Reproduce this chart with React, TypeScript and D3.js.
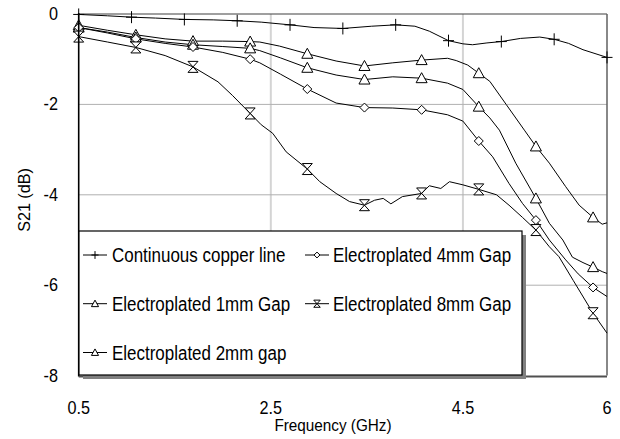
import React from "react";
import * as d3 from "d3";

const xTicks = [0.5, 2.5, 4.5, 6];
const yTicks = [0, -2, -4, -6, -8];
const gridX = [2.5, 4.5];
const gridY = [-2, -4, -6];

const seriesNames = [
  "Continuous copper line",
  "Electroplated 1mm Gap",
  "Electroplated 2mm gap",
  "Electroplated 4mm Gap",
  "Electroplated 8mm Gap",
];
const seriesMarkers = ["plus", "triangle", "triangle", "diamond", "hourglass"];

const copperF = [0.5, 0.8, 1.05, 1.3, 1.6, 1.9, 2.15, 2.4, 2.7, 2.95, 3.25, 3.55, 3.8, 4.0, 4.15, 4.35, 4.5, 4.6, 4.75, 4.9, 5.1, 5.3, 5.45, 5.6, 5.75, 6.0];
const copperV = [-0.01, -0.04, -0.07, -0.09, -0.12, -0.13, -0.15, -0.18, -0.24, -0.3, -0.32, -0.27, -0.24, -0.27, -0.38, -0.59, -0.66, -0.68, -0.64, -0.61, -0.54, -0.51, -0.56, -0.65, -0.79, -0.96];

const gap1F = [0.5, 0.8, 1.095, 1.4, 1.69, 2.0, 2.285, 2.385, 2.59, 2.88, 3.18, 3.475, 3.77, 4.07, 4.34, 4.43, 4.55, 4.665, 4.78, 4.95, 5.14, 5.26, 5.4, 5.57, 5.71, 5.855, 5.95, 6.0];
const gap1V = [-0.25, -0.36, -0.46, -0.55, -0.6, -0.6, -0.61, -0.62, -0.71, -0.88, -1.04, -1.15, -1.08, -1.02, -0.98, -1.03, -1.13, -1.31, -1.49, -2.0, -2.57, -2.93, -3.3, -3.82, -4.23, -4.5, -4.65, -4.62];

const gap2F = [0.5, 0.8, 1.095, 1.4, 1.69, 2.0, 2.285, 2.385, 2.6, 2.88, 3.18, 3.475, 3.77, 4.07, 4.34, 4.5, 4.665, 4.78, 4.88, 5.05, 5.26, 5.4, 5.54, 5.64, 5.75, 5.855, 5.95, 6.0];
const gap2V = [-0.3, -0.4, -0.52, -0.62, -0.68, -0.72, -0.76, -0.81, -0.97, -1.19, -1.35, -1.45, -1.39, -1.42, -1.53, -1.67, -2.05, -2.3, -2.57, -3.3, -4.08, -4.63, -5.0, -5.38, -5.5, -5.6, -5.7, -5.74];

const gap4F = [0.5, 0.8, 1.095, 1.4, 1.69, 2.0, 2.285, 2.385, 2.6, 2.88, 3.18, 3.475, 3.77, 4.07, 4.34, 4.5, 4.665, 4.81, 4.98, 5.12, 5.26, 5.4, 5.57, 5.7, 5.855, 6.0];
const gap4V = [-0.3, -0.42, -0.55, -0.65, -0.73, -0.85, -1.0, -1.08, -1.33, -1.66, -1.97, -2.07, -2.08, -2.12, -2.23, -2.37, -2.81, -3.16, -3.75, -4.19, -4.56, -5.0, -5.44, -5.75, -6.05, -6.25];

const gap8F = [0.5, 0.8, 1.095, 1.4, 1.69, 1.95, 2.1, 2.285, 2.4, 2.52, 2.66, 2.88, 3.01, 3.18, 3.32, 3.475, 3.58, 3.67, 3.75, 3.87, 4.07, 4.15, 4.27, 4.36, 4.5, 4.665, 4.85, 4.98, 5.12, 5.26, 5.4, 5.5, 5.65, 5.855, 6.0];
const gap8V = [-0.5, -0.62, -0.74, -0.92, -1.17, -1.5, -1.8, -2.2, -2.45, -2.64, -3.05, -3.43, -3.71, -3.97, -4.15, -4.23, -4.12, -4.08, -4.2, -4.04, -3.97, -3.8, -3.86, -3.71, -3.78, -3.88, -4.0, -4.23, -4.5, -4.78, -5.15, -5.37, -5.9, -6.62, -7.06];

const copperMarkerF = [0.5, 1.05, 1.6, 2.15, 2.7, 3.25, 3.8, 4.35, 4.9, 5.45, 6.0];
const gapMarkerF = [0.5, 1.095, 1.69, 2.285, 2.88, 3.475, 4.07, 4.665, 5.26, 5.855];

const seriesF = [copperF, gap1F, gap2F, gap4F, gap8F];
const seriesV = [copperV, gap1V, gap2V, gap4V, gap8V];
const seriesMarkF = [copperMarkerF, gapMarkerF, gapMarkerF, gapMarkerF, gapMarkerF];

const W = 620;
const H = 439;
const FONT = "'Liberation Sans', Arial, sans-serif";

function markerPath(kind: string, s: number): string {
  if (kind === "plus") return `M${-5.5 * s},0H${5.5 * s}M0,${-6 * s}V${6 * s}`;
  if (kind === "triangle") return `M0,${-5.5 * s}L${5.5 * s},${4.5 * s}L${-5.5 * s},${4.5 * s}Z`;
  if (kind === "diamond") return `M0,${-4.5 * s}L${4.5 * s},0L0,${4.5 * s}L${-4.5 * s},0Z`;
  return `M${-5 * s},${-5.5 * s}H${5 * s}L${-5 * s},${5.5 * s}H${5 * s}Z`;
}

function T(props: { x: number; y: number; sx?: number; size: number; anchor?: string; rotate?: number; children: React.ReactNode }) {
  const { x, y, sx = 0.88, size, anchor = "start", rotate = 0 } = props;
  return (
    <text
      transform={`translate(${x},${y}) rotate(${rotate}) scale(${sx},1)`}
      fontFamily={FONT}
      fontSize={size}
      textAnchor={anchor}
      fill="#000"
    >
      {props.children}
    </text>
  );
}

export default function App() {
  const x = d3.scaleLinear().domain([0.5, 6]).range([78.7, 607]);
  const y = d3.scaleLinear().domain([-8, 0]).range([375.6, 14]);
  const line = d3
    .line<[number, number]>()
    .x((d) => x(d[0]))
    .y((d) => y(d[1]));

  const legendPos = [
    [0, 0],
    [0, 1],
    [0, 2],
    [1, 0],
    [1, 1],
  ];
  const colSample = [95, 317];
  const colText = [112, 333];
  const rowY = [255, 303.7, 352.5];

  return (
    <svg
      width={W}
      height={H}
      style={{ position: "absolute", left: 0, top: 0, background: "#fff" }}
    >
      <rect x={0} y={0} width={W} height={H} fill="#fff" />
      {gridX.map((g) => (
        <line key={"gx" + g} x1={x(g)} x2={x(g)} y1={y(0)} y2={y(-8)} stroke="#d4d4d4" strokeWidth={2} />
      ))}
      {gridY.map((g) => (
        <line key={"gy" + g} x1={x(0.5)} x2={x(6)} y1={y(g)} y2={y(g)} stroke="#b0b0b0" strokeWidth={1} />
      ))}
      <line x1={x(0.5)} x2={x(6)} y1={y(0)} y2={y(0)} stroke="#404040" strokeWidth={1.2} />
      <line x1={x(6)} x2={x(6)} y1={y(0)} y2={y(-8)} stroke="#606060" strokeWidth={1.5} />

      {seriesF.map((fs, i) => {
        const pts: [number, number][] = fs.map((f, j) => [f, seriesV[i][j]]);
        return <path key={"l" + i} d={line(pts) || ""} fill="none" stroke="#000" strokeWidth={1} />;
      })}
      {seriesF.map((fs, i) =>
        fs.map((f, j) =>
          seriesMarkF[i].includes(f) ? (
            <path
              key={"m" + i + "_" + j}
              transform={`translate(${x(f)},${y(seriesV[i][j])})`}
              d={markerPath(seriesMarkers[i], 1)}
              fill={seriesMarkers[i] === "plus" ? "none" : "#fff"}
              stroke="#000"
              strokeWidth={1}
            />
          ) : null
        )
      )}

      <line x1={x(0.5)} x2={x(0.5)} y1={y(0) - 1} y2={y(-8) + 1} stroke="#000" strokeWidth={1.6} />
      <line x1={x(0.5)} x2={x(6)} y1={y(-8) + 1} y2={y(-8) + 1} stroke="#505050" strokeWidth={2} />

      {/* legend */}
      <rect x={83} y={235} width={443} height={144} fill="#808080" />
      <rect x={79} y={231} width={443} height={144} fill="#fff" stroke="#000" strokeWidth={1.2} />
      {seriesNames.map((name, i) => {
        const [c, r] = legendPos[i];
        const cy = rowY[r];
        const cx = colSample[c];
        return (
          <g key={"lg" + i}>
            <line x1={cx - 12} x2={cx + 12} y1={cy} y2={cy} stroke="#000" strokeWidth={1} />
            <path
              transform={`translate(${cx},${cy})`}
              d={markerPath(seriesMarkers[i], 0.65)}
              fill={seriesMarkers[i] === "plus" ? "none" : "#fff"}
              stroke="#000"
              strokeWidth={1}
            />
            <T x={colText[c]} y={cy + 7} size={19.5} sx={0.87}>
              {name}
            </T>
          </g>
        );
      })}

      {yTicks.map((t) => (
        <T key={"yt" + t} x={58} y={y(t) + 6} size={18} sx={0.9} anchor="end">
          {String(t)}
        </T>
      ))}
      {xTicks.map((t) => (
        <T key={"xt" + t} x={x(t)} y={414} size={18} sx={0.9} anchor="middle">
          {String(t)}
        </T>
      ))}
      <T x={333} y={431} size={17} sx={0.9} anchor="middle">
        Frequency (GHz)
      </T>
      <T x={30} y={200} size={17} sx={0.95} anchor="middle" rotate={-90}>
        S21 (dB)
      </T>
    </svg>
  );
}
